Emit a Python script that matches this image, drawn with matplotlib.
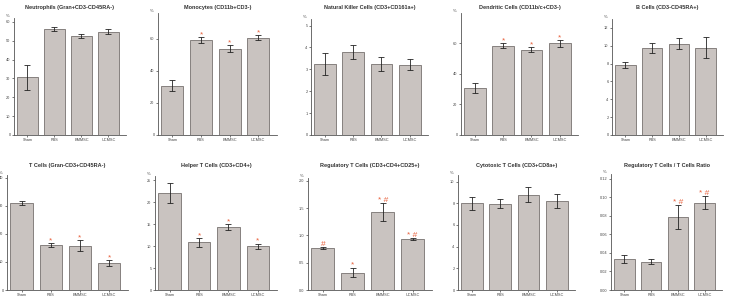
import matplotlib
matplotlib.use('Agg')
import matplotlib.pyplot as plt
import numpy as np

plt.rcParams['font.family'] = ['Liberation Sans', 'DejaVu Sans']

# Data.
groups = ['Sham', 'PBS', 'BMMSC', 'UCMSC']

titles = ['Neutrophils (Gran+CD3-CD45RA-)',
          'Monocytes (CD11b+CD3-)',
          'Natural Killer Cells (CD3+CD161a+)',
          'Dendritic Cells (CD11b/c+CD3-)',
          'B Cells (CD3-CD45RA+)',
          'T Cells (Gran-CD3+CD45RA-)',
          'Helper T Cells (CD3+CD4+)',
          'Regulatory T Cells (CD3+CD4+CD25+)',
          'Cytotoxic T Cells (CD3+CD8a+)',
          'Regulatory T Cells / T Cells Ratio']

neutro_mean = [30.5, 56.2, 52.4, 54.8]
neutro_err = [6.5, 1.0, 1.2, 1.5]
mono_mean = [30.7, 59.0, 53.8, 60.5]
mono_err = [3.5, 2.0, 2.0, 1.6]
nk_mean = [3.24, 3.78, 3.26, 3.20]
nk_err = [0.51, 0.32, 0.32, 0.25]
dc_mean = [31.0, 58.6, 56.0, 60.0]
dc_err = [3.3, 1.5, 1.5, 2.0]
b_mean = [7.85, 9.75, 10.25, 9.8]
b_err = [0.3, 0.58, 0.58, 1.2]
t_mean = [30.9, 16.0, 15.8, 9.6]
t_err = [0.7, 0.8, 1.9, 1.0]
th_mean = [22.2, 10.9, 14.3, 10.0]
th_err = [2.3, 1.0, 0.7, 0.6]
treg_mean = [0.77, 0.32, 1.43, 0.94]
treg_err = [0.02, 0.09, 0.16, 0.02]
tc_mean = [8.0, 7.97, 8.8, 8.2]
tc_err = [0.6, 0.4, 0.7, 0.62]
ratio_mean = [0.0332, 0.0307, 0.0786, 0.0940]
ratio_err = [0.0042, 0.0030, 0.0128, 0.0072]

means = [neutro_mean, mono_mean, nk_mean, dc_mean, b_mean,
         t_mean, th_mean, treg_mean, tc_mean, ratio_mean]
errs = [neutro_err, mono_err, nk_err, dc_err, b_err,
        t_err, th_err, treg_err, tc_err, ratio_err]

yticks = [np.arange(0, 61, 10), np.arange(0, 61, 20), np.arange(0, 6, 1),
          np.arange(0, 61, 20), np.arange(0, 13, 2),
          np.arange(0, 41, 10), np.arange(0, 26, 5), np.arange(0, 2.01, 0.5),
          np.arange(0, 11, 2), np.arange(0, 0.121, 0.02)]
ytop = [62, 76, 5.3, 80, 13, 41, 26, 2.05, 10.6, 0.125]
tick_fmt = ['{:.0f}', '{:.0f}', '{:.0f}', '{:.0f}', '{:.0f}',
            '{:.0f}', '{:.0f}', '{:.1f}', '{:.0f}', '{:.2f}']

marks = [['', '', '', ''],
         ['', '*', '*', '*'],
         ['', '', '', ''],
         ['', '*', '*', '*'],
         ['', '', '', ''],
         ['', '*', '*', '*'],
         ['', '*', '*', '*'],
         ['#', '*', '* #', '* #'],
         ['', '', '', ''],
         ['', '', '* #', '* #']]

# Axes boxes in pixels: left, bottom(from top), right, top(from top).
W, H = 734, 302
boxes = [(14, 135, 126, 18), (158, 135, 277, 13), (311, 135, 428, 19),
         (461, 135, 578, 13), (612, 135, 723, 19),
         (7, 290, 128, 175), (155, 290, 277, 176), (308, 290, 432, 178),
         (458, 290, 575, 175), (611, 290, 722, 174)]
title_y = [7, 7, 7, 7, 7, 165, 165, 165, 165, 165]

fig = plt.figure(figsize=(W / 100, H / 100), dpi=100)
x = np.arange(len(groups))

for i in range(10):
    l, b, r, t = boxes[i]
    ax = fig.add_axes([l / W, 1 - b / H, (r - l) / W, (b - t) / H])
    ax.bar(x, means[i], width=0.77, color='#c9c3c0',
           edgecolor='#77716f', linewidth=0.6)
    ax.errorbar(x, means[i], yerr=errs[i], fmt='none', ecolor='#222222',
                elinewidth=0.6, capsize=2.5, capthick=0.6)
    ax.set_xlim(-0.5, 3.65)
    ax.set_ylim(0, ytop[i])
    ax.set_yticks(yticks[i])
    ax.set_yticklabels([tick_fmt[i].format(v) for v in yticks[i]])
    ax.set_xticks(x)
    ax.set_xticklabels(groups)
    ax.tick_params(labelsize=2.8, length=1.5, width=0.5, pad=1,
                   colors='#444444')
    for side in ['top', 'right']:
        ax.spines[side].set_visible(False)
    for side in ['left', 'bottom']:
        ax.spines[side].set_linewidth(0.6)
        ax.spines[side].set_color('#555555')
    ax.text(-0.04, 1.0, '%', transform=ax.transAxes, fontsize=3,
            ha='right', va='bottom', color='#444444')
    fig.text(((l + r) / 2) / W, 1 - title_y[i] / H, titles[i],
             fontsize=4.0, fontweight='bold', ha='center', va='center',
             color='#333333')
    for j in range(4):
        if marks[i][j]:
            top = means[i][j] + errs[i][j]
            ax.text(x[j], top - ytop[i] * 0.01, marks[i][j], fontsize=6,
                    color='#e8603c', ha='center', va='bottom')

fig.savefig('out.png', dpi=100)
